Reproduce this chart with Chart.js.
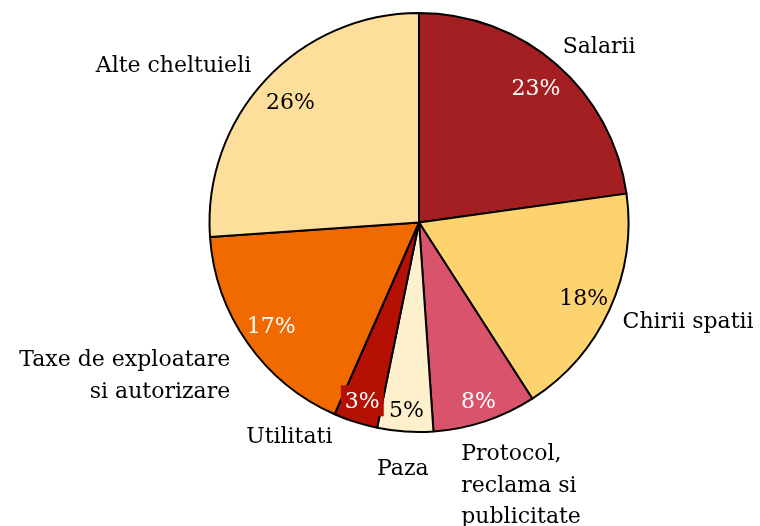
<!DOCTYPE html>
<html>
<head>
<meta charset="utf-8">
<script src="https://cdn.jsdelivr.net/npm/chart.js@4.4.0/dist/chart.umd.min.js"></script>
<style>
  html, body { margin: 0; padding: 0; background: #ffffff; }
  #wrap { width: 760px; height: 526px; position: relative; }
</style>
</head>
<body>
<div id="wrap"><canvas id="c" width="760" height="526"></canvas></div>
<script>
// ---- data ----
const categories = ["Salarii", "Chirii spatii", "Protocol, reclama si publicitate", "Paza", "Utilitati", "Taxe de exploatare si autorizare", "Alte cheltuieli"];
const categoryLines = [["Salarii"], ["Chirii spatii"], ["Protocol,", "reclama si", "publicitate"], ["Paza"], ["Utilitati"], ["Taxe de exploatare", "si autorizare"], ["Alte cheltuieli"]];
const shares = [22.8, 18.1, 8.0, 4.3, 3.4, 17.3, 26.1];
const shareLabels = ["23%", "18%", "8%", "5%", "3%", "17%", "26%"];

// ---- styling / layout (not data) ----
const sliceColors = ["#A41F22", "#FDD36F", "#D9546B", "#FEF0CD", "#B41104", "#F16A00", "#FDDF9B"];
const layout = {
  pctRadius: [0.85, 0.865, 0.9, 0.9, 0.893, 0.862, 0.84],
  pctBoxed: [false, false, false, false, true, false, false],
  outerGap: 20,
  outerNudge: [[-7, 4], [-5, 10], [-30, 20], [-1, 23.5], [-17, 2], [-1, 12], [0, 6]],
  lineHeight: 31.5
};

function isDark(hex) {
  const n = parseInt(hex.slice(1), 16);
  const r = (n >> 16) & 255, g = (n >> 8) & 255, b = n & 255;
  return (0.299 * r + 0.587 * g + 0.114 * b) < 150;
}

const labelPlugin = {
  id: 'pieLabels',
  afterDatasetsDraw(chart) {
    const ctx = chart.ctx;
    const meta = chart.getDatasetMeta(0);
    meta.data.forEach((arc, i) => {
      const p = arc.getProps(['x', 'y', 'startAngle', 'endAngle', 'outerRadius'], true);
      const mid = (p.startAngle + p.endAngle) / 2;
      const cos = Math.cos(mid), sin = Math.sin(mid);

      // percentage label inside
      const r = p.outerRadius * layout.pctRadius[i];
      const px = p.x + cos * r, py = p.y + sin * r;
      ctx.save();
      ctx.font = '22px "DejaVu Serif"';
      ctx.textAlign = 'center';
      ctx.textBaseline = 'middle';
      const col = sliceColors[i];
      if (layout.pctBoxed[i]) {
        const w = ctx.measureText(shareLabels[i]).width + 8;
        const h = 31;
        ctx.fillStyle = col;
        ctx.fillRect(px - w / 2, py - h / 2, w, h);
      }
      ctx.fillStyle = isDark(col) ? '#ffffff' : '#000000';
      ctx.fillText(shareLabels[i], px, py + 1);
      ctx.restore();

      // category label outside
      const ro = p.outerRadius + layout.outerGap;
      const ax = p.x + cos * ro + layout.outerNudge[i][0];
      const ay = p.y + sin * ro + layout.outerNudge[i][1];
      ctx.save();
      ctx.font = '22px "DejaVu Serif"';
      ctx.fillStyle = '#000000';
      ctx.textBaseline = 'alphabetic';
      ctx.textAlign = cos > 0.2 ? 'left' : (cos < -0.2 ? 'right' : 'center');
      categoryLines[i].forEach((line, k) => {
        ctx.fillText(line, ax, ay + k * layout.lineHeight);
      });
      ctx.restore();
    });
  }
};

new Chart(document.getElementById('c'), {
  type: 'pie',
  data: {
    labels: categories,
    datasets: [{
      data: shares,
      backgroundColor: sliceColors,
      borderColor: '#000000',
      borderWidth: 2
    }]
  },
  options: {
    responsive: false,
    animation: false,
    devicePixelRatio: 1,
    layout: { padding: { left: 100, right: 22, top: 12, bottom: 93 } },
    plugins: {
      legend: { display: false },
      tooltip: { enabled: false }
    }
  },
  plugins: [labelPlugin]
});
</script>
</body>
</html>
